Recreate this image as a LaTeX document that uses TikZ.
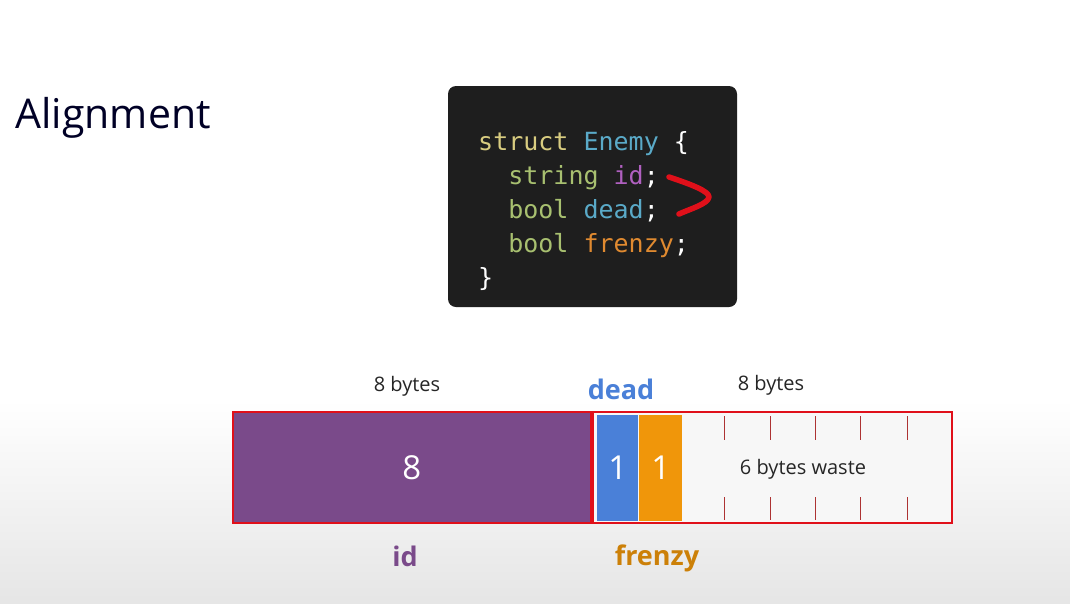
\documentclass[tikz,border=0pt]{standalone}
\usepackage{fontspec}
\setmainfont{Open Sans}
\newfontfamily\codefont{DejaVu Sans Mono}
\begin{document}
\begin{tikzpicture}[x=1pt,y=-1pt,
  lbl/.style={font=\fontsize{20}{24}\selectfont, text=black!85},
  big/.style={font=\fontsize{27}{30}\selectfont\bfseries},
  cell/.style={draw=none, inner sep=0},
  tick/.style={draw=red!60!black!80, line width=0.8}]
\definecolor{purp}{HTML}{7A4A8A}
\definecolor{bluec}{HTML}{4A80D8}
\definecolor{orangec}{HTML}{F0960A}
\definecolor{redc}{HTML}{E0101A}
\definecolor{kw}{HTML}{D8CC80}
\definecolor{ty}{HTML}{A8C070}
\definecolor{cy}{HTML}{5AAAC8}
\definecolor{pu}{HTML}{B060C0}
\definecolor{or}{HTML}{E08A30}
\definecolor{cd}{HTML}{1E1E1E}
\useasboundingbox (0,0) rectangle (1070,603);
\fill[white] (0,0) rectangle (1070,603);
\shade[top color=white, bottom color=black!10] (0,400) rectangle (1070,603);
\node[anchor=west, font=\fontsize{41}{44}\selectfont, text=black!85!blue] (title) at (12,118) {Alignment};
% code box
\fill[cd, rounded corners=8] (448,86) rectangle (737,307);
\node[anchor=north west, align=left, inner sep=0, font=\codefont\fontsize{25}{34}\selectfont] (code) at (478,131) {%
\textcolor{kw}{struct} \textcolor{cy}{Enemy} \textcolor{white!85}{\{}\\
\ \ \textcolor{ty}{string} \textcolor{pu}{id}\textcolor{white!85}{;}\\
\ \ \textcolor{ty}{bool} \textcolor{cy}{dead}\textcolor{white!85}{;}\\
\ \ \textcolor{ty}{bool} \textcolor{or}{frenzy}\textcolor{white!85}{;}\\
\textcolor{white!85}{\}}};
\draw[redc, line width=5.5, line cap=round, line join=round] (669,177) .. controls (690,184) and (709,191) .. (709,197) .. controls (708,204) and (690,209) .. (679,214);
% memory
\fill[black!3] (593,412) rectangle (952,523);
\node[cell, fill=purp, minimum width=357, minimum height=111, anchor=north west, text=white!90, font=\fontsize{33}{36}\selectfont] (idbox) at (233,412) {8};
\node[cell, fill=bluec, minimum width=41, minimum height=106, anchor=north west, text=white!90, font=\fontsize{33}{36}\selectfont] (deadbox) at (597,415) {1};
\node[cell, fill=orangec, minimum width=43, minimum height=106, anchor=north west, text=white!90, font=\fontsize{33}{36}\selectfont] (frenzybox) at (639,415) {1};
\node[lbl] (waste) at (803,469) {6 bytes waste};
\foreach \x in {724,770,815,860,907}{
  \draw[tick] (\x,416) -- (\x,440);
  \draw[tick] (\x,497) -- (\x,520);
}
\draw[redc, line width=2.5] (233,412) rectangle (591,523);
\draw[redc, line width=2.5] (593,412) rectangle (952,523);
\node[lbl] (l1) at (407,386) {8 bytes};
\node[lbl] (l2) at (771,385) {8 bytes};
\node[big, text=bluec] (ldead) at (621,389) {dead};
\node[big, text=purp] (lid) at (405,556) {id};
\node[big, text=orangec!85!black] (lfrenzy) at (657,558) {frenzy};
\end{tikzpicture}
\end{document}
